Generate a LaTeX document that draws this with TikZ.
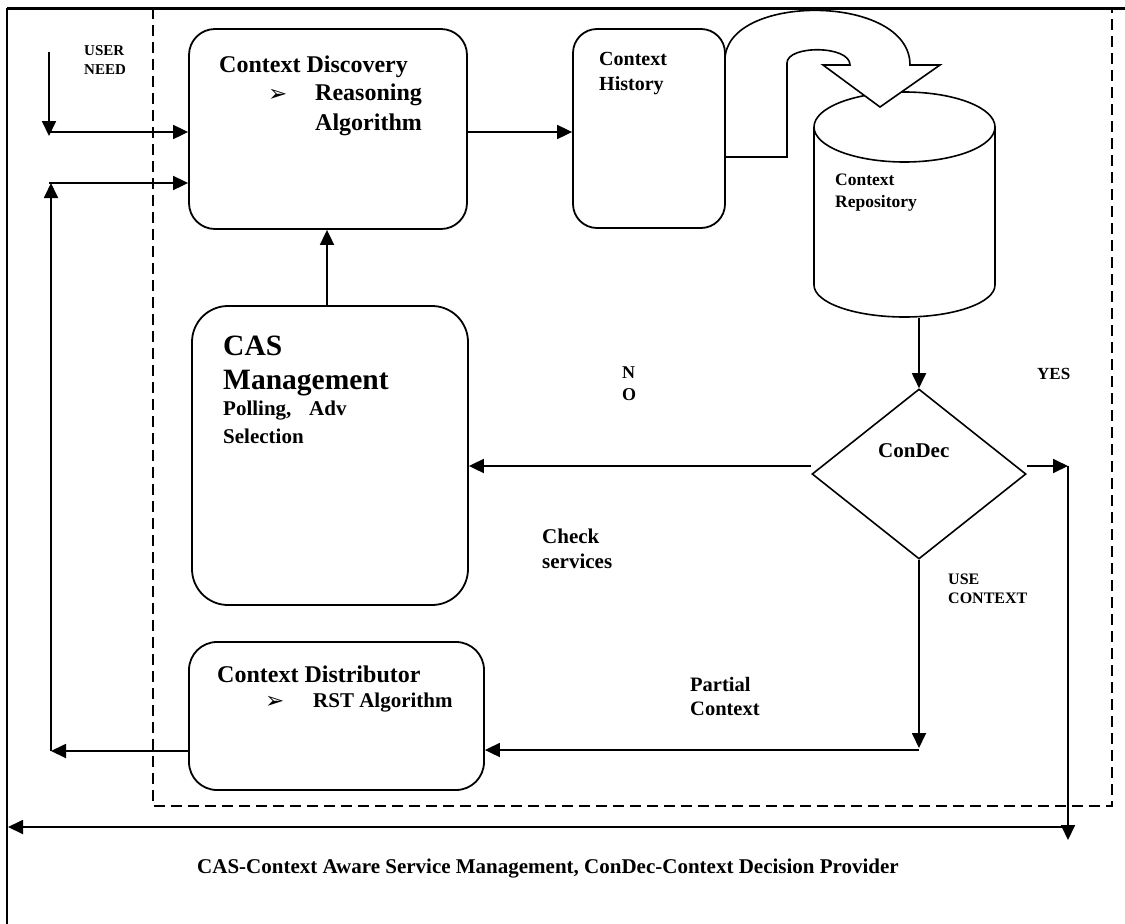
\documentclass[tikz,border=0pt]{standalone}
\usepackage{fontspec}
\setmainfont{Liberation Serif}
\newfontfamily\dejavu{DejaVu Sans}
\usetikzlibrary{arrows.meta,shapes.geometric}
\newcommand{\myfs}[1]{\fontsize{#1}{#1}\selectfont\bfseries}
\begin{document}
\begin{tikzpicture}[x=1pt,y=-1pt,
  rbox/.style={draw,line width=1.8pt,inner sep=0pt},
  arr/.style={line width=1.8pt,-{Triangle[length=15pt,width=14pt]}},
  plain/.style={line width=1.8pt},
  txt/.style={anchor=base west,inner sep=0pt},
  bul/.style={anchor=base west,inner sep=0pt,font=\dejavu\fontsize{23}{23}\selectfont}]
\useasboundingbox (0,0) rectangle (1125,924);
\fill[white] (0,0) rectangle (1125,924);

% dashed system boundary
\draw[line width=1.6pt,dash pattern=on 11pt off 6pt] (153,8) rectangle (1112,806);

% outer frame
\draw[line width=1.4pt] (7,8) -- (7,924);
\draw[line width=3pt] (7,8) -- (1125,8);

% boxes
\node[rbox,rounded corners=26pt,minimum width=278pt,minimum height=200pt] (disc) at (328,129) {};
\node[rbox,rounded corners=36pt,minimum width=276pt,minimum height=299pt] (cas) at (330,455.5) {};
\node[rbox,rounded corners=28pt,minimum width=295pt,minimum height=148pt] (dist) at (336.5,716) {};

% repository cylinder
\node[inner sep=0pt,minimum width=181pt,minimum height=226pt] (repo) at (904.5,205) {};
\draw[line width=1.6pt] (814,127) -- (814,285) arc[start angle=180,end angle=360,x radius=90.5pt,y radius=32pt] -- (995,127);
\draw[line width=1.6pt] (904.5,127) ellipse[x radius=90.5pt,y radius=35pt];

% curved block arrow
\draw[line width=1.6pt,fill=white,line join=miter] (725,157) -- (787,157) -- (787,63)
  .. controls (787,45) and (850,45) .. (850,65)
  -- (823,65) -- (880,107) -- (940,65) -- (910,65)
  .. controls (910,-7) and (725,-7) .. (725,60);

\node[rbox,rounded corners=24pt,minimum width=152pt,minimum height=199pt] (hist) at (649,128.5) {};

% decision diamond
\node[draw,diamond,line width=1.6pt,minimum width=214pt,minimum height=170pt,inner sep=0pt] (cd) at (919,474) {};

% coordinates
\coordinate (u1) at (49,52);
\coordinate (u2) at (49,136);
\coordinate (u3) at (49,132);
\coordinate (f1) at (51,751);
\coordinate (f2) at (51,183);
\coordinate (f3) at (49,183);
\coordinate (h1) at (467,132);
\coordinate (c1) at (327,306);
\coordinate (r1) at (1068,466);
\coordinate (r2) at (1068,840);
\coordinate (r3) at (1068,827);
\coordinate (l1) at (8,827);
\coordinate (p1) at (919,750);
\coordinate (p2) at (919,748);

% connectors
\draw[arr] (u1) -- (u2);
\draw[arr] (u3) -- (u3 -| disc.west);
\draw[arr] (f1 -| dist.west) -- (f1);
\draw[arr] (f1) -- (f2);
\draw[arr] (f3) -- (f3 -| disc.west);
\draw[arr] (h1 -| disc.east) -- (h1 -| hist.west);
\draw[arr] (c1 |- cas.north) -- (c1 |- disc.south);
\draw[arr] (cd.north |- repo.south) -- (cd.north);
\draw[arr] ([yshift=8pt]cd.west) -- ([yshift=8pt]cd.west -| cas.east);
\draw[arr] ([yshift=8pt]cd.east) -- (r1);
\draw[arr] (r1) -- (r2);
\draw[arr] (r3) -- (l1);
\draw[arr] (cd.south) -- (p2);
\draw[arr] (p1) -- (p1 -| dist.east);

% texts
\node[txt,font=\myfs{15}] (tu1) at (84,55) {USER};
\node[txt,font=\myfs{15}] (tu2) at (84,74) {NEED};
\node[txt,font=\myfs{24}] (td1) at (219,72) {Context Discovery};
\node[bul] (bd) at (268,101) {➢};
\node[txt,font=\myfs{24}] (td2) at (315,100) {Reasoning};
\node[txt,font=\myfs{24}] (td3) at (315,130) {Algorithm};
\node[txt,font=\myfs{20}] (th1) at (599,65) {Context};
\node[txt,font=\myfs{20}] (th2) at (599,90) {History};
\node[txt,font=\myfs{17.5}] (tr1) at (835,185) {Context};
\node[txt,font=\myfs{17.5}] (tr2) at (835,207) {Repository};
\node[txt,font=\myfs{29.5}] (tc1) at (223,355) {CAS};
\node[txt,font=\myfs{29.5}] (tc2) at (223,389) {Management};
\node[txt,font=\myfs{21}] (tc3) at (223,415) {Polling,};
\node[txt,font=\myfs{21}] (tc4) at (309,415) {Adv};
\node[txt,font=\myfs{21}] (tc5) at (223,443) {Selection};
\node[txt,font=\myfs{18}] (tn1) at (622,378) {N};
\node[txt,font=\myfs{18}] (tn2) at (622,400) {O};
\node[txt,font=\myfs{21}] (tcd) at (878,457) {ConDec};
\node[txt,font=\myfs{17}] (ty) at (1037,379) {YES};
\node[txt,font=\myfs{21}] (ts1) at (542,543) {Check};
\node[txt,font=\myfs{21}] (ts2) at (542,568) {services};
\node[txt,font=\myfs{16}] (tuc1) at (948,584) {USE};
\node[txt,font=\myfs{16}] (tuc2) at (948,603) {CONTEXT};
\node[txt,font=\myfs{20.5}] (tp1) at (690,691) {Partial};
\node[txt,font=\myfs{20.5}] (tp2) at (690,715) {Context};
\node[txt,font=\myfs{24}] (tdi1) at (217,682) {Context Distributor};
\node[bul] (bdi) at (265,708) {➢};
\node[txt,font=\myfs{21}] (tdi2) at (313,707) {RST Algorithm};
\node[txt,font=\myfs{21}] (tcap) at (197,873) {CAS-Context Aware Service Management, ConDec-Context Decision Provider};
\end{tikzpicture}
\end{document}
